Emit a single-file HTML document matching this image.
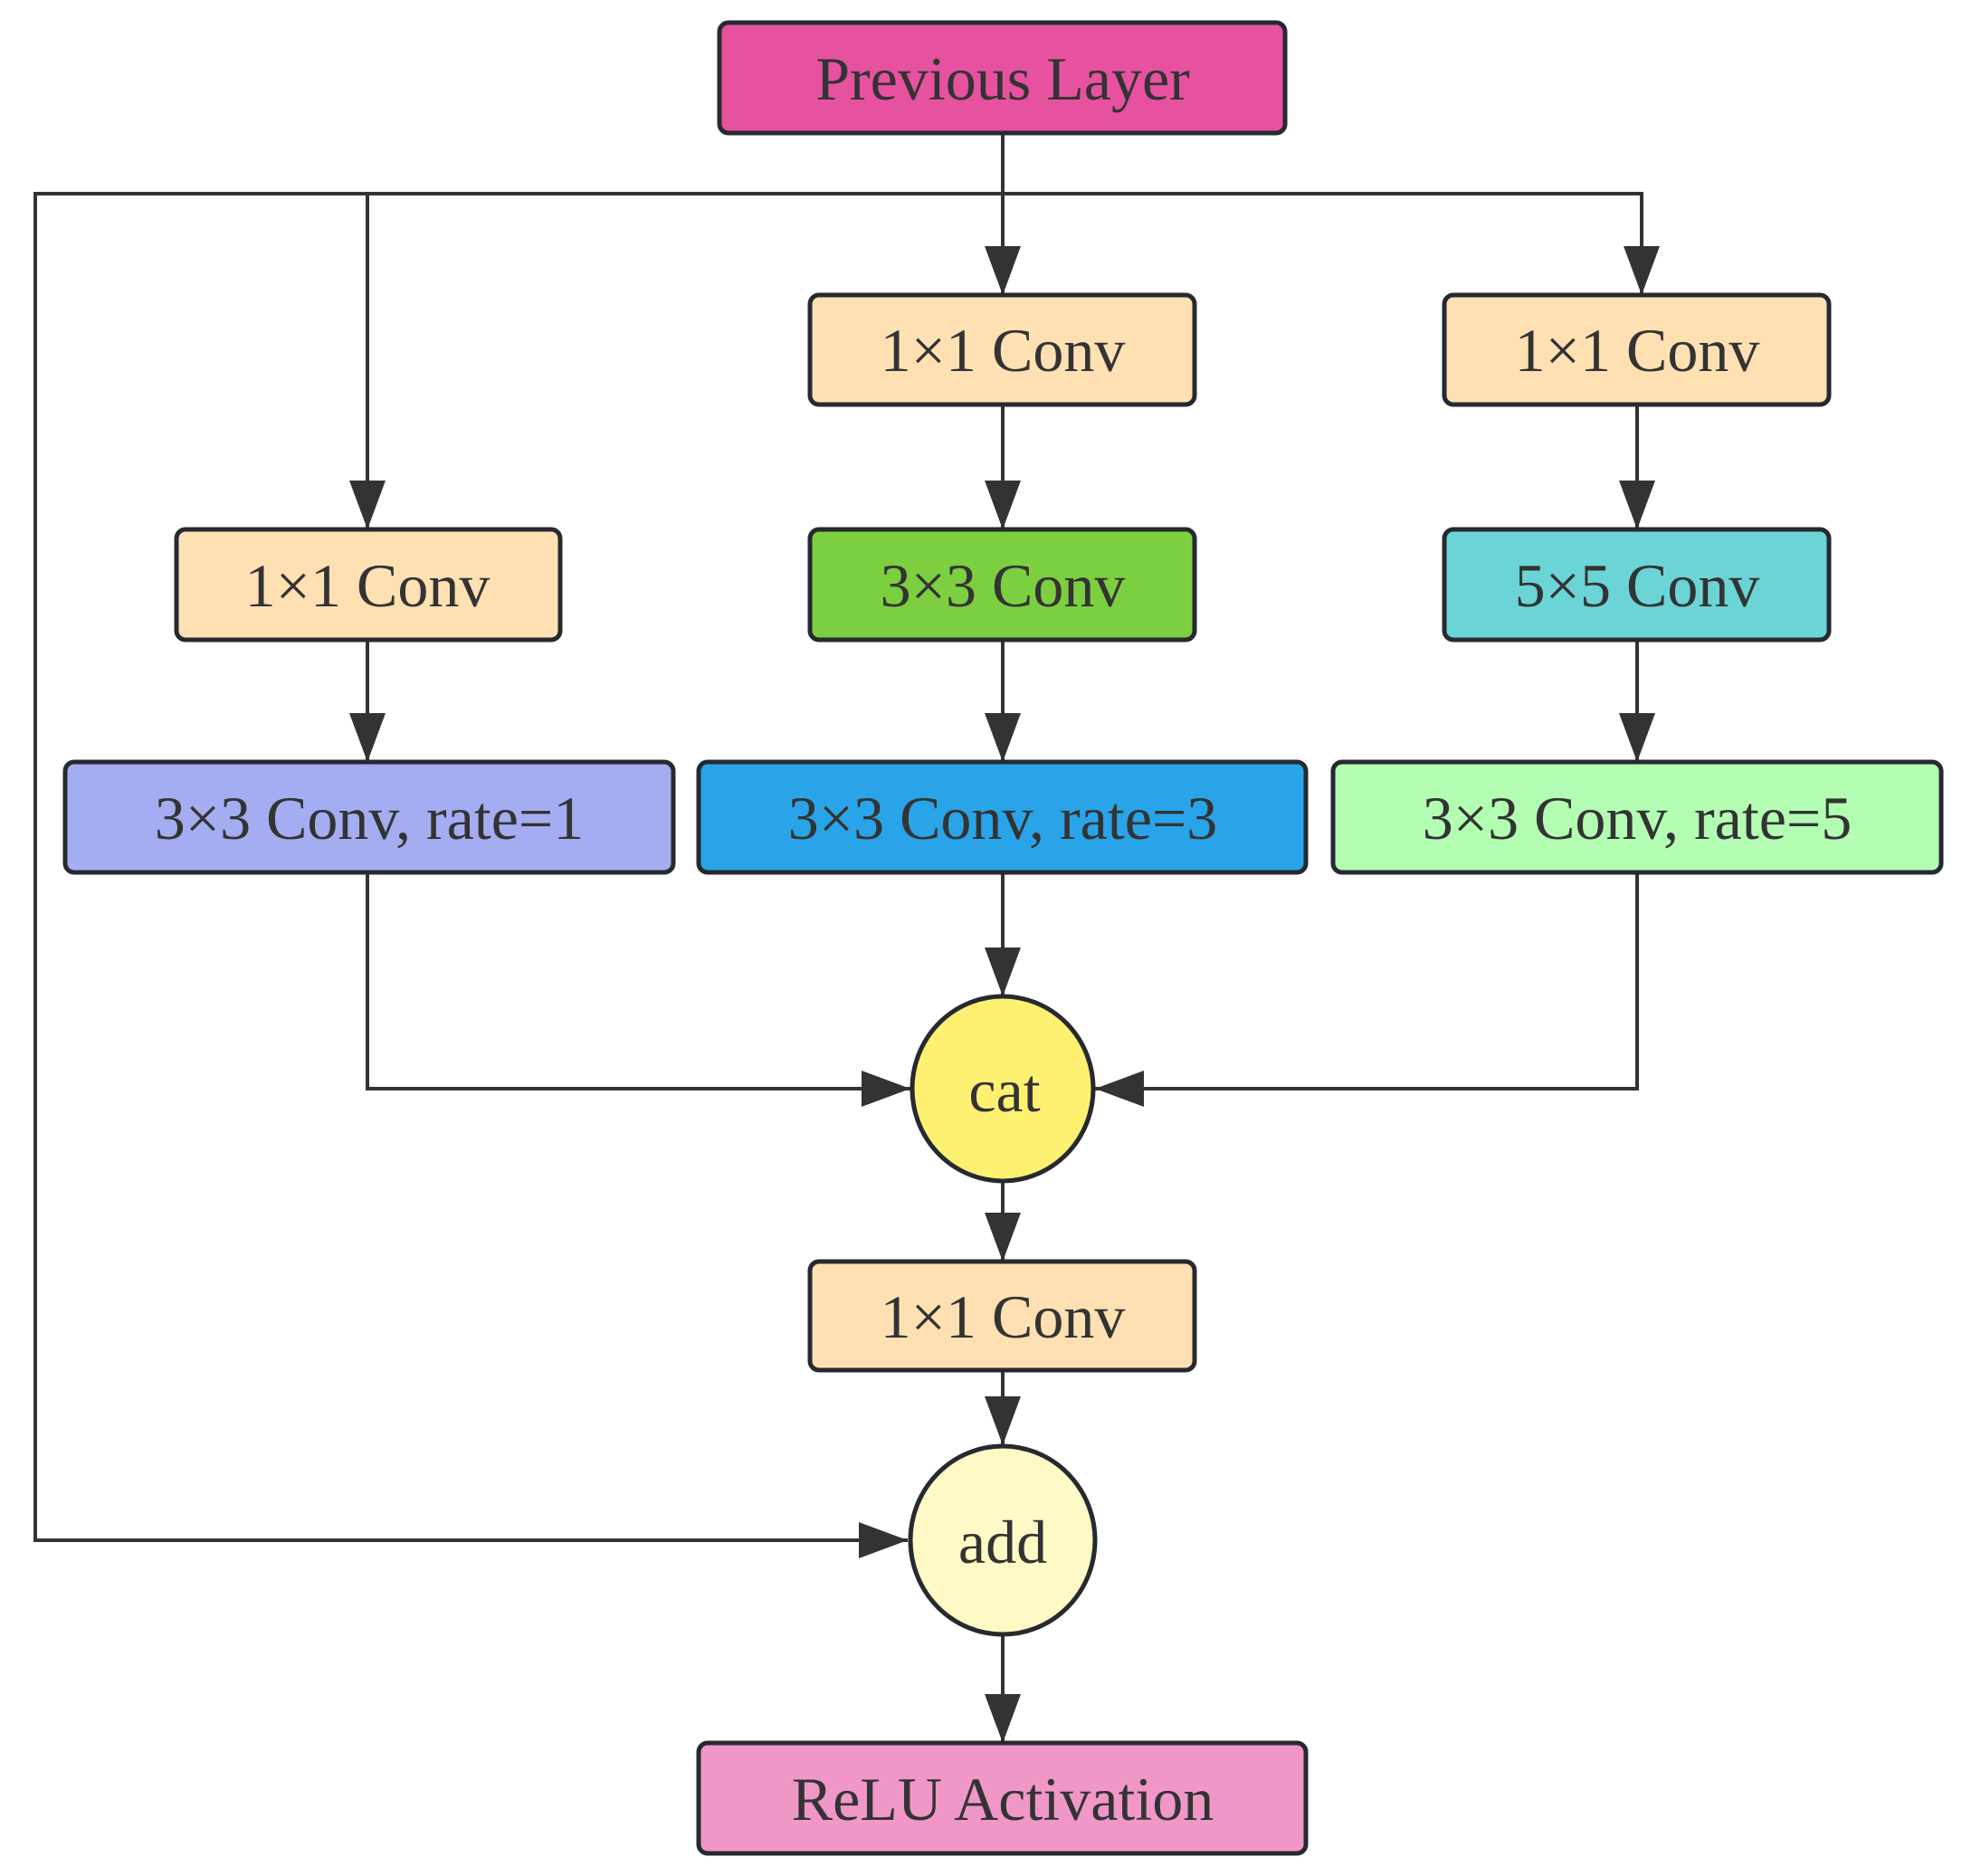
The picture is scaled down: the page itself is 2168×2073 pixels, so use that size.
<!DOCTYPE html>
<html><head><meta charset="utf-8"><style>body{margin:0;background:#fff}svg{display:block}</style></head><body>
<svg width="2168" height="2073" viewBox="0 0 2168 2073" xmlns="http://www.w3.org/2000/svg" font-family="Liberation Serif, serif" font-size="68" fill="#333">
<defs><marker id="a" markerWidth="14" markerHeight="10" refX="13" refY="5" orient="auto" markerUnits="userSpaceOnUse" viewBox="0 0 14 10"><path d="M0,0L14,5L0,10z" fill="#333"/></marker>
<marker id="b" viewBox="0 0 10 10" refX="10" refY="5" markerWidth="54" markerHeight="40" markerUnits="userSpaceOnUse" orient="auto" preserveAspectRatio="none"><path d="M0,0L10,5L0,10z" fill="#333"/></marker></defs>
<g stroke="#333" stroke-width="4" fill="none">
<path d="M1108 147V214H39V1702H1003" marker-end="url(#b)"/>
<path d="M406 214V585" marker-end="url(#b)"/>
<path d="M1108 214V326" marker-end="url(#b)"/>
<path d="M1108 214H1814V326" marker-end="url(#b)"/>
<path d="M1108 447V585" marker-end="url(#b)"/>
<path d="M1809 447V585" marker-end="url(#b)"/>
<path d="M406 707V842" marker-end="url(#b)"/>
<path d="M1108 707V842" marker-end="url(#b)"/>
<path d="M1809 707V842" marker-end="url(#b)"/>
<path d="M406 964V1203H1006" marker-end="url(#b)"/>
<path d="M1809 964V1203H1210" marker-end="url(#b)"/>
<path d="M1108 964V1101" marker-end="url(#b)"/>
<path d="M1108 1305V1394" marker-end="url(#b)"/>
<path d="M1108 1514V1597" marker-end="url(#b)"/>
<path d="M1108 1806V1926" marker-end="url(#b)"/>
</g>
<g stroke="#262a30" stroke-width="5">
<rect x="795" y="25" width="625" height="122" rx="10" fill="#e752a0"/>
<rect x="895" y="326" width="425" height="121" rx="10" fill="#fee0b3"/>
<rect x="1596" y="326" width="425" height="121" rx="10" fill="#fee0b3"/>
<rect x="195" y="585" width="424" height="122" rx="10" fill="#fee0b3"/>
<rect x="895" y="585" width="425" height="122" rx="10" fill="#7ccf3f"/>
<rect x="1596" y="585" width="425" height="122" rx="10" fill="#6bd4d6"/>
<rect x="72" y="842" width="672" height="122" rx="10" fill="#a4adf2"/>
<rect x="772" y="842" width="671" height="122" rx="10" fill="#2aa4e8"/>
<rect x="1473" y="842" width="672" height="122" rx="10" fill="#b3fdb3"/>
<ellipse cx="1108" cy="1203" rx="100" ry="102" fill="#fef172"/>
<rect x="895" y="1394" width="425" height="120" rx="10" fill="#fee0b3"/>
<ellipse cx="1108" cy="1702" rx="102" ry="104" fill="#fef9c5"/>
<rect x="772" y="1926" width="671" height="122" rx="10" fill="#f097c8"/>
</g>
<g text-anchor="middle">
<text x="1108" y="110">Previous Layer</text>
<text x="1108" y="410">1×1 Conv</text>
<text x="1809" y="410">1×1 Conv</text>
<text x="406" y="670">1×1 Conv</text>
<text x="1108" y="670">3×3 Conv</text>
<text x="1809" y="670">5×5 Conv</text>
<text x="408" y="927">3×3 Conv, rate=1</text>
<text x="1108" y="927">3×3 Conv, rate=3</text>
<text x="1809" y="927">3×3 Conv, rate=5</text>
<text x="1110" y="1228">cat</text>
<text x="1108" y="1478">1×1 Conv</text>
<text x="1108" y="1727">add</text>
<text x="1108" y="2011">ReLU Activation</text>
</g>
</svg>
</body></html>
